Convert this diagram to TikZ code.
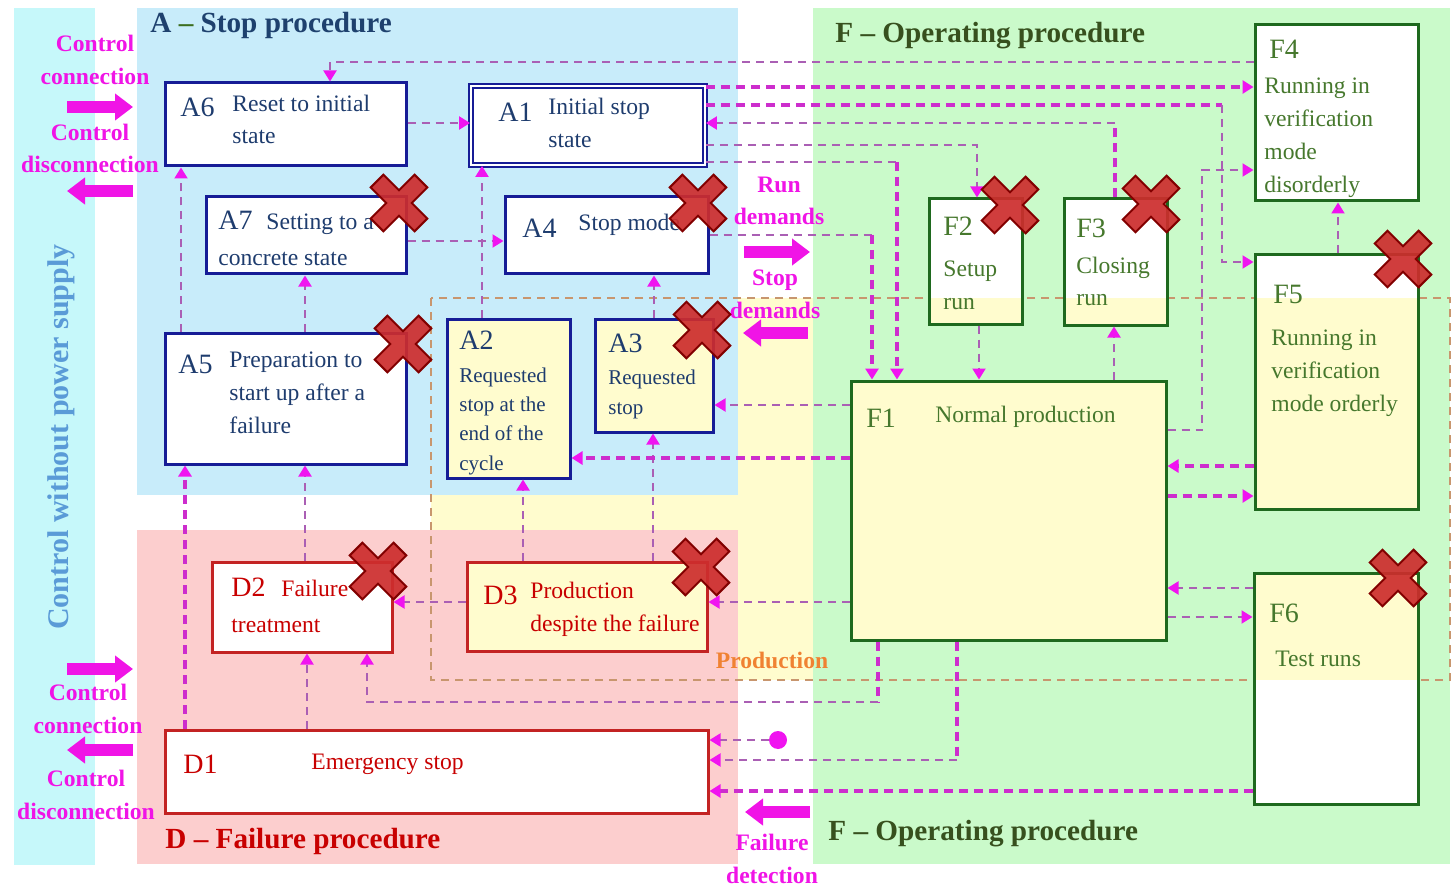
\documentclass[tikz,border=0pt]{standalone}
\usepackage{fontspec}
\setmainfont{Liberation Serif}
\usetikzlibrary{arrows.meta,fit}

\definecolor{cyanbg}{RGB}{198,248,250}
\definecolor{abg}{RGB}{200,236,250}
\definecolor{dbg}{RGB}{252,206,206}
\definecolor{fbg}{RGB}{202,250,202}
\definecolor{prodbg}{RGB}{255,252,206}
\definecolor{abord}{RGB}{22,28,150}
\definecolor{dbord}{RGB}{195,35,35}
\definecolor{fbord}{RGB}{30,105,30}
\definecolor{atext}{RGB}{30,60,110}
\definecolor{dtext}{RGB}{200,0,0}
\definecolor{ftext}{RGB}{70,120,45}
\definecolor{ftitle}{RGB}{55,80,30}
\definecolor{atitle}{RGB}{30,65,110}
\definecolor{dashg}{RGB}{60,110,30}
\definecolor{magc}{RGB}{240,20,230}
\definecolor{prodc}{RGB}{240,130,50}
\definecolor{sidec}{RGB}{90,155,215}
\definecolor{thinc}{RGB}{170,95,180}
\definecolor{boldc}{RGB}{205,45,205}
\definecolor{tipc}{RGB}{240,20,240}
\definecolor{prodlc}{RGB}{200,150,110}
\definecolor{xfill}{RGB}{205,45,45}
\definecolor{xdraw}{RGB}{130,0,0}

\tikzset{
  xmark/.pic={
    \draw[xcross, rotate=45] (9,31) -- (9,9) -- (31,9) -- (31,-9) -- (9,-9) -- (9,-31)
      -- (-9,-31) -- (-9,-9) -- (-31,-9) -- (-31,9) -- (-9,9) -- (-9,31) -- cycle;
  }
}

\begin{document}
\begin{tikzpicture}[x=0.5pt, y=-0.5pt,
    box/.style={draw, line width=1.5pt, fill=white, inner sep=0pt,
      path picture={\fill[prodbg] (prodNW) rectangle (prodSE);}},
    abox/.style={box, draw=abord},
    dbox/.style={box, draw=dbord},
    fbox/.style={box, draw=fbord},
    lbl/.style={anchor=base west, inner sep=0pt, font=\fontsize{14}{16}\selectfont},
    txt/.style={anchor=base west, inner sep=0pt, align=left, font=\fontsize{11.8}{16.5}\selectfont},
    stxt/.style={anchor=base west, inner sep=0pt, align=left, font=\fontsize{10.5}{14.65}\selectfont},
    ttl/.style={anchor=base west, inner sep=0pt, font=\fontsize{14.6}{17}\selectfont\bfseries},
    cmd/.style={anchor=base, inner sep=0pt, align=center, text=magc, font=\fontsize{11.8}{16.5}\selectfont\bfseries},
    thinl/.style={line width=1pt, draw=thinc, dash pattern=on 4pt off 3pt},
    boldl/.style={line width=2pt, draw=boldc, dash pattern=on 4.5pt off 3pt},
    arr/.style={-{Triangle[length=5.5pt,width=6.5pt,color=tipc]}},
    blockarr/.style={line width=6pt, draw=magc, -{Triangle[length=9pt,width=13pt]}},
    prodline/.style={line width=1pt, draw=prodlc, dash pattern=on 4pt off 3pt},
    dotn/.style={circle, fill=tipc, inner sep=0pt, minimum size=9pt},
    xcross/.style={line width=1pt, draw=xdraw, fill=xfill, fill opacity=0.92}]

  \useasboundingbox (0,0) rectangle (1453,888);

  % regions
  \coordinate (prodNW) at (431,298);
  \coordinate (prodSE) at (1450,680);
  \fill[cyanbg] (14,8) rectangle (95,865);
  \fill[prodbg] (prodNW) rectangle (prodSE);
  \fill[abg] (137,8) rectangle (738,495);
  \fill[dbg] (137,530) rectangle (738,864);
  \fill[fbg] (813,8) rectangle (1450,864);
  \draw[prodline] (prodNW) rectangle (prodSE);

  % boxes
  \node[abox, fit={(165,83) (406,166)}] (A6) {};
  \node[abox, line width=0.9pt, double=white, double distance=1.2pt, fit={(471,86) (705,165)}] (A1) {};
  \node[abox, fit={(206,197) (406,274)}] (A7) {};
  \node[abox, fit={(505,197) (708,274)}] (A4) {};
  \node[abox, fit={(165,333) (406,464)}] (A5) {};
  \node[abox, fit={(447,319) (570,478)}] (A2) {};
  \node[abox, fit={(595,319) (713,432)}] (A3) {};
  \node[dbox, fit={(212,562) (392,652)}] (D2) {};
  \node[dbox, fit={(467,562) (707,651)}] (D3) {};
  \node[dbox, fit={(165,730) (708,813)}] (D1) {};
  \node[fbox, fit={(851,381) (1166,640)}] (F1) {};
  \node[fbox, fit={(929,199) (1022,324)}] (F2) {};
  \node[fbox, fit={(1064,199) (1167,325)}] (F3) {};
  \node[fbox, fit={(1255,25) (1418,201)}] (F4) {};
  \node[fbox, fit={(1255,255) (1418,509)}] (F5) {};
  \node[fbox, fit={(1254,573) (1418,804)}] (F6) {};
  \node[dotn] (fdot) at (778,740) {};

  % bends
  \coordinate (kA6) at (330,62);
  \coordinate (kF5a) at (1222,105);
  \coordinate (kF5b) at (1222,262);
  \coordinate (kF3) at (1115,123);
  \coordinate (kF2) at (977,145);
  \coordinate (kF1a) at (897,162);
  \coordinate (kF1b) at (872,235);
  \coordinate (kF4a) at (1202,430);
  \coordinate (kF4b) at (1202,170);
  \coordinate (kD2a) at (878,702);
  \coordinate (kD2b) at (367,702);
  \coordinate (kD1) at (957,760);

  % stop procedure links
  \draw[thinl, arr] (A6.east |- 0,123) -- (A1.west |- 0,123);
  \draw[thinl, arr] (A7.east |- 0,241) -- (A4.west |- 0,241);
  \draw[thinl, arr] (A5.north -| 181,0) -- (A6.south -| 181,0);
  \draw[thinl, arr] (A5.north -| 305,0) -- (A7.south -| 305,0);
  \draw[thinl, arr] (A2.north -| 482,0) -- (A1.south -| 482,0);
  \draw[thinl, arr] (A3.north -| 654,0) -- (A4.south -| 654,0);
  \draw[thinl, arr] (D3.north -| 523,0) -- (A2.south -| 523,0);
  \draw[thinl, arr] (D3.north -| 653,0) -- (A3.south -| 653,0);
  \draw[thinl, arr] (D3.west |- 0,602) -- (D2.east |- 0,602);
  \draw[thinl, arr] (D2.north -| 305,0) -- (A5.south -| 305,0);
  \draw[thinl, arr] (D1.north -| 307,0) -- (D2.south -| 307,0);
  \draw[boldl, arr] (D1.north -| 185,0) -- (A5.south -| 185,0);

  % links to and from the operating procedure
  \draw[thinl, arr] (F4.west |- kA6) -- (kA6) -- (A6.north -| kA6);
  \draw[boldl, arr] (A1.east |- 0,87) -- (F4.west |- 0,87);
  \draw[boldl] (A1.east |- kF5a) -- (kF5a);
  \draw[thinl, arr] (kF5a) -- (kF5b) -- (F5.west |- kF5b);
  \draw[boldl] (F3.north -| kF3) -- (kF3);
  \draw[thinl, arr] (kF3) -- (A1.east |- kF3);
  \draw[thinl, arr] (A1.east |- kF2) -- (kF2) -- (F2.north -| kF2);
  \draw[thinl] (A1.east |- kF1a) -- (kF1a);
  \draw[boldl, arr] (kF1a) -- (F1.north -| kF1a);
  \draw[thinl] (A4.east |- kF1b) -- (kF1b);
  \draw[boldl, arr] (kF1b) -- (F1.north -| kF1b);
  \draw[thinl, arr] (F2.south -| 979,0) -- (F1.north -| 979,0);
  \draw[thinl, arr] (F1.north -| 1114,0) -- (F3.south -| 1114,0);
  \draw[thinl, arr] (F1.east |- kF4a) -- (kF4a) -- (kF4b) -- (F4.west |- kF4b);
  \draw[thinl, arr] (F5.north -| 1338,0) -- (F4.south -| 1338,0);
  \draw[boldl, arr] (F5.west |- 0,466) -- (F1.east |- 0,466);
  \draw[boldl, arr] (F1.east |- 0,496) -- (F5.west |- 0,496);
  \draw[thinl, arr] (F6.west |- 0,588) -- (F1.east |- 0,588);
  \draw[thinl, arr] (F1.east |- 0,617) -- (F6.west |- 0,617);
  \draw[thinl, arr] (F1.west |- 0,405) -- (A3.east |- 0,405);
  \draw[boldl, arr] (F1.west |- 0,458) -- (A2.east |- 0,458);
  \draw[thinl, arr] (F1.west |- 0,602) -- (D3.east |- 0,602);
  \draw[boldl] (F1.south -| kD2a) -- (kD2a);
  \draw[thinl, arr] (kD2a) -- (kD2b) -- (D2.south -| kD2b);
  \draw[boldl] (F1.south -| kD1) -- (kD1);
  \draw[thinl, arr] (kD1) -- (D1.east |- kD1);
  \draw[thinl, arr] (fdot) -- (D1.east |- fdot);
  \draw[boldl, arr] (F6.west |- 0,791) -- (D1.east |- 0,791);

  % big arrows
  \draw[blockarr] (67,107) -- (133,107);
  \draw[blockarr] (133,191) -- (67,191);
  \draw[blockarr] (67,669) -- (133,669);
  \draw[blockarr] (133,750) -- (67,750);
  \draw[blockarr] (744,252) -- (810,252);
  \draw[blockarr] (808,333) -- (743,333);
  \draw[blockarr] (810,812) -- (745,812);

  % box texts (multi-line texts sit on their last baseline)
  \node[lbl, text=atext] (A6n) at (180,117) {A6};
  \node[txt, text=atext] (A6t) at (232,144) {Reset to initial\\state};
  \node[lbl, text=atext] (A1n) at (498,122) {A1};
  \node[txt, text=atext] (A1t) at (548,148) {Initial stop\\state};
  \node[lbl, text=atext] (A7n) at (218,230) {A7};
  \node[txt, text=atext] (A7t) at (266,230) {Setting to a};
  \node[txt, text=atext] (A7u) at (218,265) {concrete state};
  \node[lbl, text=atext] (A4n) at (522,237) {A4};
  \node[txt, text=atext] (A4t) at (578,231) {Stop mode};
  \node[lbl, text=atext] (A5n) at (178,373) {A5};
  \node[txt, text=atext] (A5t) at (229,433) {Preparation to\\start up after a\\failure};
  \node[lbl, text=atext] (A2n) at (459,350) {A2};
  \node[stxt, text=atext] (A2t) at (459,470) {Requested\\stop at the\\end of the\\cycle};
  \node[lbl, text=atext] (A3n) at (608,352) {A3};
  \node[stxt, text=atext] (A3t) at (608,414) {Requested\\stop};
  \node[lbl, text=dtext] (D2n) at (231,596) {D2};
  \node[txt, text=dtext] (D2t) at (281,596) {Failure};
  \node[txt, text=dtext] (D2u) at (231,632) {treatment};
  \node[lbl, text=dtext] (D3n) at (483,604) {D3};
  \node[txt, text=dtext] (D3t) at (530,631) {Production\\despite the failure};
  \node[lbl, text=dtext] (D1n) at (183,773) {D1};
  \node[txt, text=dtext] (D1t) at (311,769) {Emergency stop};
  \node[lbl, text=ftext] (F4n) at (1269,59) {F4};
  \node[txt, text=ftext] (F4t) at (1264,192) {Running in\\verification\\mode\\disorderly};
  \node[lbl, text=ftext] (F2n) at (943,235) {F2};
  \node[txt, text=ftext] (F2t) at (943,309) {Setup\\run};
  \node[lbl, text=ftext] (F3n) at (1076,237) {F3};
  \node[txt, text=ftext] (F3t) at (1076,306) {Closing\\run};
  \node[lbl, text=ftext] (F5n) at (1273,303) {F5};
  \node[txt, text=ftext] (F5t) at (1271,411) {Running in\\verification\\mode orderly};
  \node[lbl, text=ftext] (F1n) at (866,427) {F1};
  \node[txt, text=ftext] (F1t) at (935,422) {Normal production};
  \node[lbl, text=ftext] (F6n) at (1269,622) {F6};
  \node[txt, text=ftext] (F6t) at (1275,666) {Test runs};

  % titles and side labels
  \node[ttl, text=atitle] (Attl) at (150,33) {A \textcolor{dashg}{--} Stop procedure};
  \node[ttl, text=ftitle] (Fttl) at (835,43) {F -- Operating procedure};
  \node[ttl, text=ftitle] (Fttl2) at (828,840) {F -- Operating procedure};
  \node[ttl, text=dtext] (Dttl) at (165,848) {D -- Failure procedure};
  \node[rotate=90, inner sep=0pt, text=sidec, font=\fontsize{15}{18}\selectfont\bfseries] (side) at (61,437) {Control without power supply};
  \node[cmd] (cc1) at (95,85) {Control\\connection};
  \node[cmd] (cd1) at (90,173) {Control\\disconnection};
  \node[cmd] (cc2) at (88,733) {Control\\connection};
  \node[cmd] (cd2) at (86,819) {Control\\disconnection};
  \node[cmd] (rund) at (779,225) {Run\\demands};
  \node[cmd] (stpd) at (775,318) {Stop\\demands};
  \node[cmd] (fdet) at (772,883) {Failure\\detection};
  \node[cmd, text=prodc] (prod) at (772,668) {Production};

  % inhibited states
  \pic at (399,203) {xmark};
  \pic at (698,203) {xmark};
  \pic at (403,344) {xmark};
  \pic at (702,330) {xmark};
  \pic at (378,571) {xmark};
  \pic at (701,567) {xmark};
  \pic at (1010,205) {xmark};
  \pic at (1151,204) {xmark};
  \pic at (1403,259) {xmark};
  \pic at (1398,578) {xmark};
\end{tikzpicture}
\end{document}
